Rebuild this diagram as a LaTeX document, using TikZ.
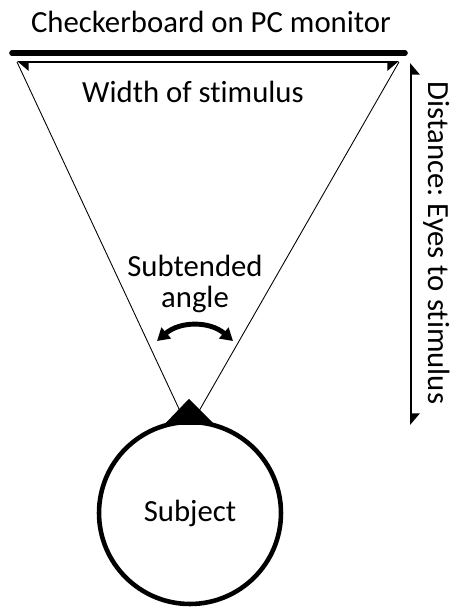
\documentclass[tikz,border=0pt]{standalone}
\usepackage{fontspec}
\setmainfont{Carlito}[Ligatures=NoCommon]
\frenchspacing
\usetikzlibrary{positioning,arrows.meta}
\tikzset{
  lbl/.style={inner sep=0pt, font=\fontsize{17.5}{18}\selectfont},
  hdim/.style={line width=1.1pt, {Triangle[harpoon, length=6pt, width=10pt]}-{Triangle[harpoon, swap, length=6pt, width=10pt]}},
  vdim/.style={line width=1.1pt, {Triangle[harpoon, swap, length=6pt, width=10pt]}-{Triangle[harpoon, length=6pt, width=10pt]}},
  ray/.style={line width=0.5pt}}

\begin{document}
\begin{tikzpicture}[x=0.02cm, y=-0.02cm]
\useasboundingbox (0,0) rectangle (450,610);
% monitor
\node[lbl] (title) at (211,22) {Checkerboard on PC monitor};
\coordinate (ml) at (12,53);
\coordinate (mr) at (405,53);
\draw[line width=3.2pt, line cap=round] (ml) -- (mr);
\coordinate (wl) at (17,62);
\coordinate (wr) at (399,62);
\draw[hdim] (wl) -- (wr);
\node[lbl] (wtxt) at (193,92) {Width of stimulus};
% rays to the eye
\coordinate (nose) at (189,400);
\coordinate (nl) at (166,424);
\coordinate (nr) at (213,424);
\coordinate (rl) at (180,411);
\coordinate (rr) at (199,411);
\draw[ray] (wl) -- (rl);
\draw[ray] (wr) -- (rr);
% subject
\node[lbl, draw, circle, line width=2.6pt, minimum size=3.64cm] (head) at (190,513) {Subject};
\draw[fill, line width=1pt, line join=round] (nose) -- (nl) -- (nr) -- cycle;
% angle
\node[lbl, align=center] (atxt) at (195,284) {Subtended\\angle};
\coordinate (al) at (157,341);
\coordinate (ar) at (233,341);
\draw[line width=2.8pt, {Triangle[length=7pt, width=8pt]}-{Triangle[length=7pt, width=8pt]}] (al) .. controls (180,321) and (210,321) .. (ar);
% distance
\coordinate (dt) at (411,63);
\coordinate (db) at (411,425);
\draw[vdim] (dt) -- (db);
\node[lbl, rotate=-90] (dtxt) at (437,243) {Distance: Eyes to stimulus};
\end{tikzpicture}
\end{document}
